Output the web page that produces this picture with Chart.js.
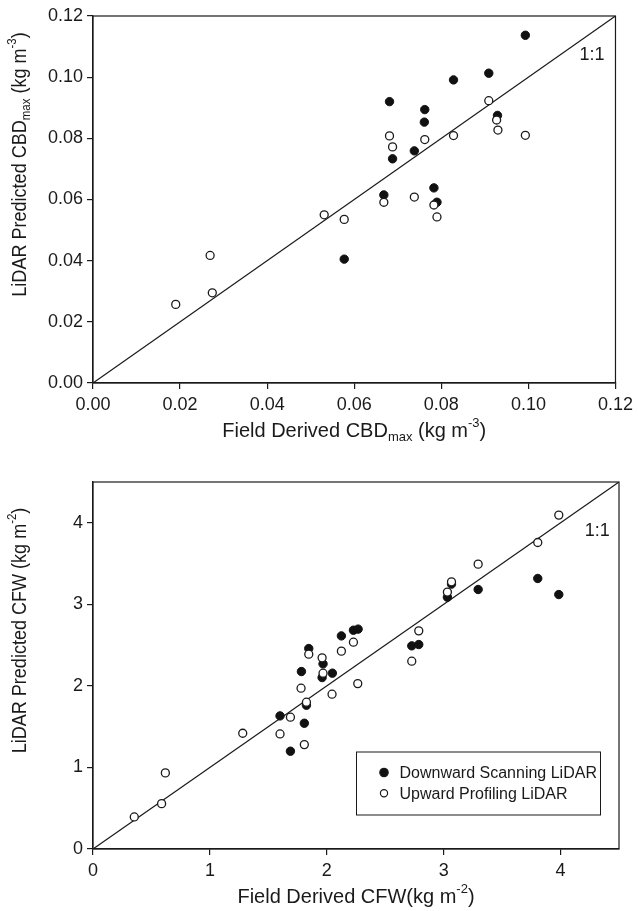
<!DOCTYPE html>
<html>
<head>
<meta charset="utf-8">
<script src="https://cdn.jsdelivr.net/npm/chart.js@4.4.1/dist/chart.umd.min.js"></script>
<style>
  html, body { margin: 0; padding: 0; background: #fff; }
  .wrap { position: absolute; left: 0; width: 638px; }
  #topWrap { top: 0; height: 455px; }
  #bottomWrap { top: 455px; height: 456px; }
</style>
</head>
<body>
<div class="wrap" id="topWrap"><canvas id="cbdChart"></canvas></div>
<div class="wrap" id="bottomWrap"><canvas id="cfwChart"></canvas></div>
<script>
// CBDmax (kg m-3): field derived (x) vs LiDAR predicted (y)
const cbdDownX = [0.0993, 0.0909, 0.0828, 0.0681, 0.0762, 0.0761, 0.0929, 0.0738, 0.0688, 0.0668, 0.0783, 0.0790, 0.0577];
const cbdDownY = [0.1137, 0.1013, 0.0991, 0.0920, 0.0894, 0.0853, 0.0875, 0.0759, 0.0733, 0.0615, 0.0638, 0.0591, 0.0405];
const cbdUpX = [0.0190, 0.0269, 0.0274, 0.0531, 0.0577, 0.0668, 0.0738, 0.0783, 0.0790, 0.0681, 0.0688, 0.0762, 0.0828, 0.0909, 0.0927, 0.0930, 0.0993];
const cbdUpY = [0.0257, 0.0417, 0.0295, 0.0550, 0.0535, 0.0591, 0.0608, 0.0582, 0.0543, 0.0808, 0.0772, 0.0796, 0.0809, 0.0923, 0.0860, 0.0827, 0.0810];

// CFW (kg m-2)
const cfwDownX = [3.805, 3.985, 3.295, 3.032, 3.067, 2.727, 2.787, 2.125, 2.228, 2.268, 1.846, 1.783, 1.968, 1.960, 2.048, 1.826, 1.600, 1.808, 1.689];
const cfwDownY = [3.317, 3.120, 3.182, 3.088, 3.248, 2.491, 2.507, 2.613, 2.683, 2.696, 2.458, 2.176, 2.270, 2.102, 2.156, 1.763, 1.632, 1.542, 1.199];
const cfwUpX = [0.353, 0.587, 0.619, 1.281, 1.600, 1.689, 1.808, 1.826, 1.780, 2.045, 2.265, 1.968, 1.960, 1.846, 2.125, 2.228, 2.727, 2.787, 3.032, 3.067, 3.295, 3.805, 3.985];
const cfwUpY = [0.393, 0.556, 0.933, 1.419, 1.411, 1.616, 1.280, 1.800, 1.972, 1.898, 2.028, 2.156, 2.344, 2.389, 2.426, 2.536, 2.303, 2.675, 3.150, 3.276, 3.493, 3.758, 4.094];

// tick labels
const cbdTicks = [0, 0.02, 0.04, 0.06, 0.08, 0.10, 0.12];
const cfwTicks = [0, 1, 2, 3, 4];
const cbdMax = 0.12;
const cfwMax = 4.5;

const seriesNames = ["Downward Scanning LiDAR", "Upward Profiling LiDAR"];

const INK = "#1a1a1a";
const FONT = '"Liberation Sans", Arial, Helvetica, sans-serif';

const toPoints = (xs, ys) => xs.map((x, i) => ({ x: x, y: ys[i] }));

function drawRich(ctx, parts, cx, cy, size) {
  const fontFor = s => (s === "n" ? size : Math.round(size * 0.65)) + "px " + FONT;
  let w = 0;
  parts.forEach(p => { ctx.font = fontFor(p[1]); w += ctx.measureText(p[0]).width; });
  let x = cx - w / 2;
  ctx.textAlign = "left";
  ctx.textBaseline = "middle";
  parts.forEach(p => {
    ctx.font = fontFor(p[1]);
    const dy = p[1] === "sub" ? size * 0.32 : p[1] === "sup" ? -size * 0.38 : 0;
    ctx.fillText(p[0], x, cy + dy);
    x += ctx.measureText(p[0]).width;
  });
}

// frame, axis titles, 1:1 label and legend
const extras = {
  id: "extras",
  afterDraw(chart, args, opts) {
    const ctx = chart.ctx;
    const a = chart.chartArea;
    ctx.save();
    ctx.strokeStyle = INK;
    ctx.lineWidth = 1.2;
    ctx.strokeRect(a.left, a.top, a.right - a.left, a.bottom - a.top);
    ctx.fillStyle = INK;

    drawRich(ctx, opts.xTitle, (a.left + a.right) / 2, a.bottom + 48, 20);

    ctx.save();
    ctx.translate(20, (a.top + a.bottom) / 2 - 35);
    ctx.rotate(-Math.PI / 2);
    ctx.scale(0.88, 1);
    drawRich(ctx, opts.yTitle, 0, 0, 20.5);
    ctx.restore();

    const xs = chart.scales.x, ys = chart.scales.y;
    ctx.font = "18px " + FONT;
    ctx.textAlign = "center";
    ctx.textBaseline = "middle";
    ctx.fillText("1:1", xs.getPixelForValue(opts.ratioAt[0]), ys.getPixelForValue(opts.ratioAt[1]));

    if (opts.legend) {
      const bw = 244, bh = 63;
      const bx = a.right - 18.5 - bw, by = a.bottom - 34 - bh;
      ctx.lineWidth = 1;
      ctx.strokeRect(bx, by, bw, bh);
      ctx.font = "16px " + FONT;
      ctx.textAlign = "left";
      const sets = [chart.data.datasets[2], chart.data.datasets[1]];
      sets.forEach((ds, i) => {
        const ry = by + 20.5 + i * 20.8;
        ctx.beginPath();
        ctx.arc(bx + 27.5, ry, i === 0 ? 4.2 : 3.6, 0, Math.PI * 2);
        ctx.fillStyle = ds.pointBackgroundColor;
        ctx.fill();
        ctx.lineWidth = 1.2;
        ctx.strokeStyle = INK;
        ctx.stroke();
        ctx.fillStyle = INK;
        ctx.fillText(ds.label, bx + 43, ry + 1);
      });
    }
    ctx.restore();
  }
};

function makeChart(id, cfg) {
  const tickFmt = v => cfg.decimals ? v.toFixed(cfg.decimals) : String(v);
  return new Chart(document.getElementById(id), {
    type: "scatter",
    data: {
      datasets: [
        {
          type: "line",
          label: "1:1",
          data: [{ x: 0, y: 0 }, { x: cfg.max, y: cfg.max }],
          borderColor: INK,
          borderWidth: 1.2,
          pointRadius: 0,
          order: 3,
        },
        {
          label: seriesNames[1],
          data: toPoints(cfg.upX, cfg.upY),
          pointBackgroundColor: "#ffffff",
          pointBorderColor: INK,
          pointBorderWidth: 1.3,
          pointRadius: 4,
          order: 1,
        },
        {
          label: seriesNames[0],
          data: toPoints(cfg.downX, cfg.downY),
          pointBackgroundColor: "#111111",
          pointBorderColor: "#111111",
          pointBorderWidth: 1,
          pointRadius: 4.2,
          order: 2,
        },
      ],
    },
    options: {
      responsive: true,
      maintainAspectRatio: false,
      animation: false,
      layout: { padding: { top: cfg.padTop, right: 19, bottom: 0, left: 0 } },
      plugins: {
        legend: { display: false },
        tooltip: { enabled: false },
        extras: { xTitle: cfg.xTitle, yTitle: cfg.yTitle, ratioAt: cfg.ratioAt, legend: cfg.legend },
      },
      scales: {
        x: {
          type: "linear",
          min: 0,
          max: cfg.max,
          afterBuildTicks: s => { s.ticks = cfg.ticks.map(v => ({ value: v })); },
          afterFit: s => { s.height = cfg.xAxisH; },
          grid: { drawOnChartArea: false, drawTicks: true, tickLength: 6, color: INK, lineWidth: 1.2 },
          border: { display: true, color: INK, width: 1.2 },
          ticks: { color: INK, font: { family: FONT, size: 18 }, padding: 5, maxRotation: 0, autoSkip: false, callback: tickFmt },
        },
        y: {
          type: "linear",
          min: 0,
          max: cfg.max,
          afterBuildTicks: s => { s.ticks = cfg.ticks.map(v => ({ value: v })); },
          afterFit: s => { s.width = 93; },
          grid: { drawOnChartArea: false, drawTicks: true, tickLength: 6, color: INK, lineWidth: 1.2 },
          border: { display: true, color: INK, width: 1.2 },
          ticks: { color: INK, font: { family: FONT, size: 18 }, padding: 4, autoSkip: false, callback: tickFmt },
        },
      },
    },
    plugins: [extras],
  });
}

makeChart("cbdChart", {
  downX: cbdDownX, downY: cbdDownY, upX: cbdUpX, upY: cbdUpY,
  max: cbdMax, ticks: cbdTicks, decimals: 2,
  padTop: 16, xAxisH: 72,
  ratioAt: [0.1146, 0.1072],
  legend: false,
  xTitle: [["Field Derived CBD", "n"], ["max", "sub"], [" (kg m", "n"], ["-3", "sup"], [")", "n"]],
  yTitle: [["LiDAR Predicted CBD", "n"], ["max", "sub"], [" (kg m", "n"], ["-3", "sup"], [")", "n"]],
});

makeChart("cfwChart", {
  downX: cfwDownX, downY: cfwDownY, upX: cfwUpX, upY: cfwUpY,
  max: cfwMax, ticks: cfwTicks, decimals: 0,
  padTop: 27, xAxisH: 62,
  ratioAt: [4.313, 3.893],
  legend: true,
  xTitle: [["Field Derived CFW(kg m", "n"], ["-2", "sup"], [")", "n"]],
  yTitle: [["LiDAR Predicted CFW (kg m", "n"], ["-2", "sup"], [")", "n"]],
});
</script>
</body>
</html>
